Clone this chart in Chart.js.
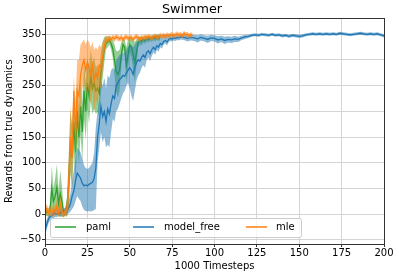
<!DOCTYPE html>
<html><head><meta charset="utf-8">
<script src="https://cdn.jsdelivr.net/npm/chart.js@4.4.0/dist/chart.umd.min.js"></script>
<style>html,body{margin:0;padding:0;background:#fff}#wrap{width:399px;height:276px}</style>
</head><body><div id="wrap"><canvas id="c" width="399" height="276"></canvas></div>
<script>
const chartTitle = 'Swimmer';
const xLabel = '1000 Timesteps';
const yLabel = 'Rewards from true dynamics';
const xTicks = [0, 25, 50, 75, 100, 125, 150, 175, 200];
const yTicks = [-50, 0, 50, 100, 150, 200, 250, 300, 350];
const seriesNames = ['paml', 'model_free', 'mle'];
const seriesColors = ['#2ca02c', '#1f77b4', '#ff7f0e'];
const bandColors = ['rgba(44,160,44,0.5)', 'rgba(31,119,180,0.5)', 'rgba(255,127,14,0.5)'];

// paml: one value per 1000 timesteps, x = 0..68
const pamlMean = [0,5,3,8,50,25,35,52,20,40,
  25,2,5,15,60,140,110,180,120,200,
  150,210,160,240,200,255,230,270,245,255,
  240,245,235,275,300,320,333,335,338,332,
  322,300,278,272,280,310,330,325,290,310,
  330,325,310,295,315,335,338,336,340,338,
  342,340,343,341,344,342,345,343,344];
const pamlSpread = [8,8,8,12,45,25,35,45,25,45,
  30,8,8,20,50,60,60,60,55,60,
  55,55,55,55,55,50,55,50,50,50,
  45,45,45,40,35,25,12,10,8,12,
  18,30,40,45,40,25,12,15,35,30,
  15,20,30,40,25,10,8,8,6,7,
  6,6,5,6,5,6,5,6,5];

// mle: x = 0..87
const mleMean = [5,10,3,8,2,10,5,15,3,20,
  5,0,5,10,60,150,110,240,160,240,
  230,270,290,300,280,295,285,270,290,260,
  275,265,290,285,305,325,340,338,342,340,
  344,341,345,343,341,344,340,343,345,342,
  344,343,340,344,346,342,340,344,342,345,
  343,346,344,342,345,347,344,345,348,346,
  348,345,349,347,348,350,347,349,351,348,
  350,347,352,349,350,347,349,348];
const mleSpread = [8,10,8,10,8,12,10,15,8,20,
  10,6,8,15,50,60,60,30,60,60,
  70,60,45,40,50,45,50,55,45,60,
  50,55,40,40,30,15,8,8,6,6,
  5,6,5,6,5,6,5,6,5,5,
  5,6,5,5,5,6,5,5,5,5,
  5,5,5,5,5,5,5,5,5,5,
  5,5,5,5,5,5,5,5,5,5,
  5,5,5,5,5,5,5,5];

// model_free: x = 0..80 every 1, then 82..200 every 2
const mfMean = [-32,-20,-10,-5,-3,0,2,0,3,2,
  5,3,5,8,12,20,35,45,65,80,
  75,70,60,55,57,55,58,60,62,70,
  90,150,175,210,190,200,180,205,195,215,
  230,225,250,255,262,265,270,268,275,280,
  285,280,272,285,295,300,298,305,310,305,
  315,318,312,320,325,320,328,325,332,330,
  336,338,335,340,342,341,343,342,344,343,
  345,
  344,342,344,343,341,344,342,340,343,342,
  339,341,338,340,339,341,340,343,345,346,
  348,349,348,350,349,348,350,348,349,347,
  348,346,348,347,346,347,349,350,351,350,
  351,350,351,350,351,350,352,351,350,349,
  350,351,352,351,350,351,350,351,349,347];
const mfLow = [-45,-30,-18,-12,-10,-8,-5,-6,-3,-4,
  -2,-4,-2,0,2,5,10,15,25,35,
  30,25,15,8,6,5,6,5,6,8,
  10,100,130,160,140,150,130,135,130,160,
  185,180,200,205,215,225,235,240,250,255,
  245,230,220,240,260,270,275,285,290,285,
  300,305,298,308,315,310,320,316,325,322,
  330,332,328,335,337,336,338,337,339,338,
  340,
  339,336,338,337,334,338,336,333,337,336,
  332,335,331,334,333,335,335,339,341,343,
  345,346,345,347,346,345,347,345,346,344,
  345,343,345,344,343,344,346,347,348,347,
  348,347,348,347,348,347,349,348,347,346,
  347,348,349,348,347,348,347,348,346,344];
const mfHigh = [-20,-10,-2,2,4,8,10,8,10,9,
  12,10,12,18,25,40,65,85,110,130,
  125,120,110,95,90,88,90,95,100,120,
  170,200,225,260,250,265,245,270,265,280,
  285,280,300,305,310,310,315,312,320,325,
  330,328,325,330,335,338,336,340,342,340,
  343,345,343,346,347,345,348,347,349,348,
  350,350,348,350,350,349,350,349,350,349,
  351,
  349,348,350,349,348,350,348,347,349,348,
  346,347,345,346,345,347,345,347,349,349,
  351,352,351,353,352,351,353,351,352,350,
  351,349,351,350,349,350,352,353,354,353,
  354,353,354,353,354,353,355,354,353,352,
  353,354,355,354,353,354,353,354,352,350];

const mfSteps = [];
for (let i = 0; i <= 80; i++) mfSteps.push(i);
for (let i = 82; i <= 200; i += 2) mfSteps.push(i);

const pts = (xs, ys) => ys.map((y, i) => ({x: xs ? xs[i] : i, y}));
const add = (a, b, s) => a.map((v, i) => v + s * b[i]);

function lineDs(data, color) {
  return {data, borderColor: color, borderWidth: 1.3, pointRadius: 0, fill: false, tension: 0};
}
function edgeDs(data, fill, color) {
  return {data, borderColor: 'rgba(0,0,0,0)', borderWidth: 0, pointRadius: 0, fill: fill, backgroundColor: color, tension: 0};
}

// Index 0 is drawn on top in Chart.js, so series are listed last-drawn first.
const datasets = [
  lineDs(pts(null, mleMean), seriesColors[2]),
  edgeDs(pts(null, add(mleMean, mleSpread, 1)), '+1', bandColors[2]),
  edgeDs(pts(null, add(mleMean, mleSpread, -1)), false, 'rgba(0,0,0,0)'),
  lineDs(pts(mfSteps, mfMean), seriesColors[1]),
  edgeDs(pts(mfSteps, mfHigh), '+1', bandColors[1]),
  edgeDs(pts(mfSteps, mfLow), false, 'rgba(0,0,0,0)'),
  lineDs(pts(null, pamlMean), seriesColors[0]),
  edgeDs(pts(null, add(pamlMean, pamlSpread, 1)), '+1', bandColors[0]),
  edgeDs(pts(null, add(pamlMean, pamlSpread, -1)), false, 'rgba(0,0,0,0)')
];

const FONT = 'DejaVu Sans';

const framePlugin = {
  id: 'frame',
  afterDatasetsDraw(chart) {
    const {ctx, chartArea: a} = chart;
    ctx.save();
    ctx.strokeStyle = '#333';
    ctx.lineWidth = 1;
    ctx.strokeRect(Math.round(a.left) + 0.5, Math.round(a.top) + 0.5, Math.round(a.right - a.left), Math.round(a.bottom - a.top));
    // legend
    const lx = 50, ly = 218, lw = 251, lh = 19;
    ctx.fillStyle = 'rgba(255,255,255,0.8)';
    ctx.strokeStyle = '#cccccc';
    ctx.beginPath();
    ctx.roundRect(lx + 0.5, ly + 0.5, lw, lh, 2);
    ctx.fill();
    ctx.stroke();
    const lineX = [55, 133, 246];
    const textX = [86, 164, 276];
    ctx.font = '10px "' + FONT + '"';
    ctx.textBaseline = 'middle';
    ctx.textAlign = 'left';
    for (let i = 0; i < seriesNames.length; i++) {
      ctx.strokeStyle = seriesColors[i];
      ctx.lineWidth = 1.5;
      ctx.beginPath();
      ctx.moveTo(lineX[i], 227);
      ctx.lineTo(lineX[i] + 21, 227);
      ctx.stroke();
      ctx.fillStyle = '#000';
      ctx.fillText(seriesNames[i], textX[i], 227.5);
    }
    ctx.restore();
  }
};

new Chart(document.getElementById('c'), {
  type: 'line',
  data: {datasets},
  options: {
    responsive: false,
    devicePixelRatio: 1,
    animation: false,
    layout: {padding: {left: 0, right: 15, top: 0, bottom: 0}},
    plugins: {
      legend: {display: false},
      tooltip: {enabled: false},
      title: {
        display: true, text: chartTitle, color: '#000',
        font: {family: FONT, size: 12.8, weight: 'normal'},
        padding: {top: 2.3, bottom: 0.7}
      }
    },
    scales: {
      x: {
        type: 'linear', min: 0, max: 200,
        afterBuildTicks: s => { s.ticks = xTicks.map(v => ({value: v})); },
        afterFit: s => { s.height = 32; },
        ticks: {color: '#000', font: {family: FONT, size: 10}, padding: 0, maxRotation: 0, autoSkip: false},
        grid: {color: '#d4d4d4', lineWidth: 1, tickLength: 3, tickColor: '#333'},
        border: {color: '#333', width: 1},
        title: {display: true, text: xLabel, color: '#000', font: {family: FONT, size: 10}, padding: {top: 0, bottom: 4}}
      },
      y: {
        type: 'linear', min: -58, max: 381,
        afterBuildTicks: s => { s.ticks = yTicks.map(v => ({value: v})); },
        afterFit: s => { s.width = 45; },
        ticks: {color: '#000', font: {family: FONT, size: 10}, padding: 1,
          callback: v => String(v).replace('-', '\u2212')},
        grid: {color: '#d4d4d4', lineWidth: 1, tickLength: 3, tickColor: '#333'},
        border: {color: '#333', width: 1},
        title: {display: true, text: yLabel, color: '#000', font: {family: FONT, size: 10}, padding: {top: 3, bottom: 0}}
      }
    }
  },
  plugins: [framePlugin]
});
</script>
</body></html>
